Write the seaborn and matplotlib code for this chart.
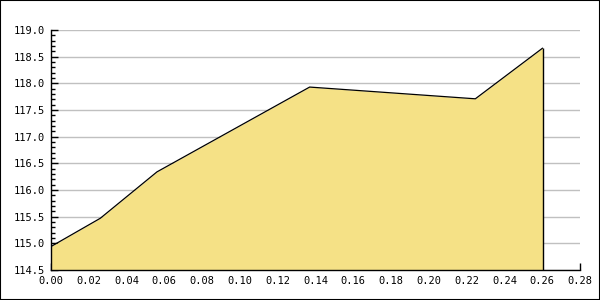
import matplotlib
matplotlib.use("Agg")
import matplotlib.pyplot as plt
from matplotlib.ticker import MultipleLocator, FormatStrFormatter
import seaborn as sns
import pandas as pd

x_values = [0.0, 0.0261, 0.0561, 0.1369, 0.2246, 0.2602]
y_values = [114.94, 115.47, 116.34, 117.93, 117.71, 118.66]

sns.set_theme(style="white")
plt.rcParams['font.family'] = ['DejaVu Sans Mono']

df = pd.DataFrame({"x": x_values, "y": y_values})

fig = plt.figure(figsize=(6, 3), dpi=100)
ax = fig.add_axes([51/600, 0.1, (580-51)/600, 0.8])

fill_color = "#F5E186"
ax.fill_between(df["x"], df["y"], 114.5, color=fill_color, linewidth=0, zorder=2)
ax.vlines(df["x"].iloc[-1], 114.5, df["y"].iloc[-1], color="black", linewidth=1.0, zorder=3)
sns.lineplot(data=df, x="x", y="y", ax=ax, color="black", linewidth=0.9, zorder=3)

ax.set_xlim(0, 0.28)
ax.set_ylim(114.5, 119.0)
ax.xaxis.set_major_locator(MultipleLocator(0.02))
ax.xaxis.set_major_formatter(FormatStrFormatter("%.2f"))
ax.yaxis.set_major_locator(MultipleLocator(0.5))
ax.yaxis.set_minor_locator(MultipleLocator(0.1))
ax.yaxis.set_major_formatter(FormatStrFormatter("%.1f"))
ax.set_xlabel("")
ax.set_ylabel("")

ax.grid(axis="y", which="major", color="#c0c0c0", linewidth=1.0, zorder=1)
ax.set_axisbelow(True)
for s in ["top", "right"]:
    ax.spines[s].set_visible(False)
for s in ["left", "bottom"]:
    ax.spines[s].set_color("black")
    ax.spines[s].set_linewidth(1.0)
    ax.spines[s].set_zorder(4)

ax.tick_params(axis="both", which="major", direction="in", length=5, width=1,
               color="black", labelsize=7.5, labelcolor="black", pad=4,
               left=True, bottom=True)
ax.tick_params(axis="y", which="minor", direction="in", length=3, width=1,
               color="black", left=True)

fig.patches.append(plt.Rectangle((0, 0), 1, 1, transform=fig.transFigure,
                                 fill=False, edgecolor="black", linewidth=1.5))

fig.savefig("out.png", dpi=100, facecolor="white")
